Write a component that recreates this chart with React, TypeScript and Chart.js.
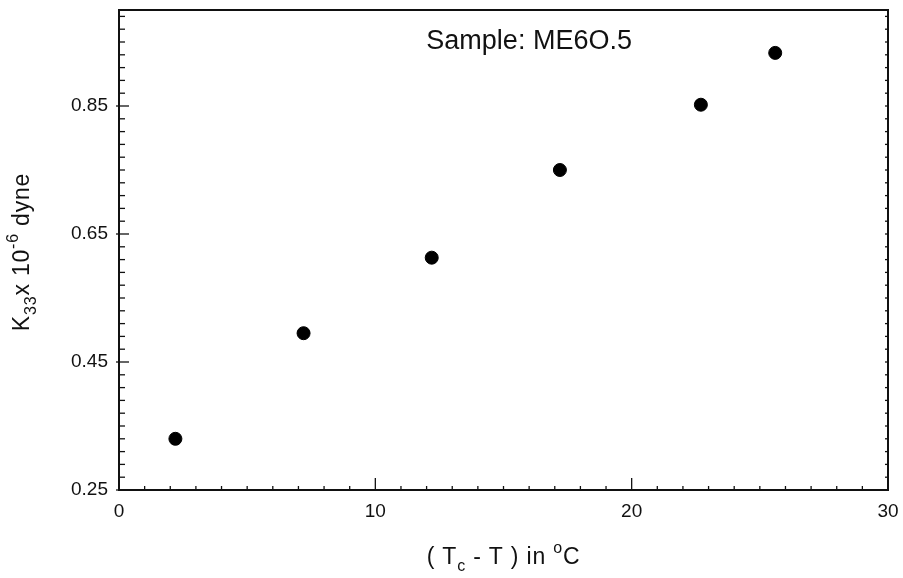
import React, { useEffect, useRef } from "react";
import { Chart, registerables } from "chart.js";

Chart.register(...registerables);

const tempDiff = [2.2, 7.2, 12.2, 17.2, 22.7, 25.6];
const k33 = [0.33, 0.495, 0.613, 0.75, 0.852, 0.933];
const yTickValues = [0.25, 0.45, 0.65, 0.85];
const xTickValues = [0, 10, 20, 30];
const sampleLabel = "Sample: ME6O.5";

const FONT = "'Liberation Sans', Arial, sans-serif";

type Piece = { t: string; k?: "sub" | "sup" };

function drawRich(ctx: CanvasRenderingContext2D, pieces: Piece[], cx: number, cy: number, size: number, spacing: number) {
  const small = Math.round(size * 0.7);
  (ctx as any).letterSpacing = `${spacing}px`;
  const widths = pieces.map((p) => {
    ctx.font = `${p.k ? small : size}px ${FONT}`;
    return ctx.measureText(p.t).width;
  });
  const total = widths.reduce((a, b) => a + b, 0);
  let x = cx - total / 2;
  ctx.textBaseline = "middle";
  ctx.textAlign = "left";
  pieces.forEach((p, i) => {
    ctx.font = `${p.k ? small : size}px ${FONT}`;
    let dy = 0;
    if (p.k === "sub") dy = size * 0.38;
    if (p.k === "sup") dy = -size * 0.4;
    ctx.fillText(p.t, x, cy + dy);
    x += widths[i];
  });
  (ctx as any).letterSpacing = "0px";
}

const framePlugin = {
  id: "frame",
  afterDraw(chart: any) {
    const { ctx, chartArea: a, scales } = chart;
    const xs = scales.x;
    const ys = scales.y;
    ctx.save();
    ctx.strokeStyle = "#111";
    ctx.fillStyle = "#111";
    ctx.lineWidth = 1.3;
    for (let v = 0; v <= 30; v += 1) {
      const px = xs.getPixelForValue(v);
      const len = v % 10 === 0 ? 12 : 4;
      ctx.beginPath();
      ctx.moveTo(px, a.bottom);
      ctx.lineTo(px, a.bottom - len);
      ctx.stroke();
    }
    for (let i = 0; i * 0.02 + 0.25 <= 1.0001; i++) {
      const v = 0.25 + i * 0.02;
      const py = ys.getPixelForValue(v);
      const major = i % 10 === 0;
      ctx.beginPath();
      ctx.moveTo(a.left - (major ? 3 : 0), py);
      ctx.lineTo(a.left + (major ? 10 : 6), py);
      ctx.stroke();
      ctx.beginPath();
      ctx.moveTo(a.right, py);
      ctx.lineTo(a.right - 3, py);
      ctx.stroke();
    }
    ctx.lineWidth = 2;
    ctx.strokeRect(a.left, a.top, a.right - a.left, a.bottom - a.top);

    ctx.font = `27px ${FONT}`;
    ctx.textAlign = "center";
    ctx.textBaseline = "middle";
    ctx.fillText(sampleLabel, xs.getPixelForValue(16.0), ys.getPixelForValue(0.95));

    drawRich(
      ctx,
      [{ t: "( T" }, { t: "c", k: "sub" }, { t: " - T ) in " }, { t: "o", k: "sup" }, { t: "C" }],
      (a.left + a.right) / 2,
      a.bottom + 68,
      23,
      0.8
    );
    ctx.translate(23, (a.top + a.bottom) / 2 + 2);
    ctx.rotate(-Math.PI / 2);
    drawRich(
      ctx,
      [{ t: "K" }, { t: "33", k: "sub" }, { t: "x 10" }, { t: "-6", k: "sup" }, { t: " dyne" }],
      0,
      0,
      23,
      0.8
    );
    ctx.restore();
  },
};

export default function App() {
  const ref = useRef<HTMLCanvasElement | null>(null);
  useEffect(() => {
    if (!ref.current) return;
    const chart = new Chart(ref.current, {
      type: "scatter",
      data: {
        datasets: [
          {
            data: tempDiff.map((x, i) => ({ x, y: k33[i] })),
            backgroundColor: "#000",
            borderColor: "#000",
            pointRadius: 6.5,
            pointHoverRadius: 6.5,
          },
        ],
      },
      options: {
        animation: false,
        responsive: true,
        maintainAspectRatio: false,
        layout: { padding: { top: 10, right: 15, left: 0, bottom: 0 } },
        plugins: { legend: { display: false }, tooltip: { enabled: false } },
        scales: {
          x: {
            type: "linear",
            min: 0,
            max: 30,
            grid: { display: false, drawTicks: false },
            border: { display: false },
            afterBuildTicks: (s: any) => {
              s.ticks = xTickValues.map((v) => ({ value: v }));
            },
            afterFit: (s: any) => {
              s.height = 88;
              s.paddingLeft = 0;
              s.paddingRight = 0;
            },
            ticks: {
              padding: 10,
              color: "#111",
              font: { family: FONT, size: 19 },
              maxRotation: 0,
            },
          },
          y: {
            type: "linear",
            min: 0.25,
            max: 1.0,
            grid: { display: false, drawTicks: false },
            border: { display: false },
            afterBuildTicks: (s: any) => {
              s.ticks = yTickValues.map((v) => ({ value: v }));
            },
            afterFit: (s: any) => {
              s.width = 119;
              s.paddingTop = 0;
              s.paddingBottom = 0;
            },
            ticks: {
              padding: 11,
              color: "#111",
              font: { family: FONT, size: 19 },
              callback: (v: any) => Number(v).toFixed(2),
            },
          },
        },
      },
      plugins: [framePlugin],
    });
    return () => chart.destroy();
  }, []);
  return (
    <div style={{ position: "fixed", left: 0, top: 0, width: 903, height: 578, background: "#fff" }}>
      <canvas ref={ref} />
    </div>
  );
}
